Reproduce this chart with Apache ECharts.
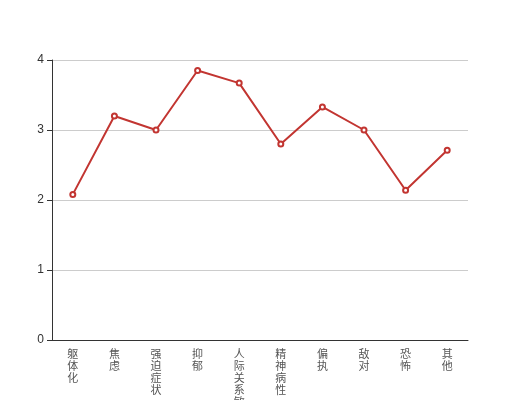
<!DOCTYPE html>
<html><head><meta charset="utf-8">
<script src="https://cdn.jsdelivr.net/npm/echarts@6/dist/echarts.min.js"></script>
<style>html,body{margin:0;padding:0;background:#fff}#c{width:520px;height:400px}</style>
</head><body><div id="c"></div>
<script>
var categories = ['躯体化','焦虑','强迫症状','抑郁','人际关系敏感','精神病性','偏执','敌对','恐怖','其他'];
var values = [2.08, 3.2, 3.0, 3.85, 3.67, 2.8, 3.33, 3.0, 2.14, 2.71];
var yTicks = {min: 0, max: 4, interval: 1};

var chart = echarts.init(document.getElementById('c'), null, {renderer: 'canvas'});
chart.setOption({
  animation: false,
  grid: {left: 52, right: 52, top: 60, bottom: 60, containLabel: false, outerBoundsMode: 'none'},
  xAxis: {
    type: 'category',
    data: categories,
    boundaryGap: true,
    axisLine: {lineStyle: {color: '#333'}},
    axisTick: {lineStyle: {color: '#333'}},
    axisLabel: {
      interval: 0, color: '#555', fontSize: 11, lineHeight: 12, margin: 8,
      fontFamily: 'Noto Sans CJK SC',
      formatter: function (v) { return v.split('').join('\n'); }
    }
  },
  yAxis: {
    type: 'value',
    min: yTicks.min, max: yTicks.max, interval: yTicks.interval,
    axisLine: {show: true, lineStyle: {color: '#333'}},
    axisTick: {show: true, lineStyle: {color: '#333'}},
    axisLabel: {color: '#333', fontSize: 12},
    splitLine: {lineStyle: {color: '#ccc'}}
  },
  series: [{
    type: 'line',
    data: values,
    symbol: 'emptyCircle',
    symbolSize: 5,
    itemStyle: {color: '#c23531', borderWidth: 1},
    lineStyle: {width: 2, color: '#c23531'}
  }]
});
</script></body></html>
